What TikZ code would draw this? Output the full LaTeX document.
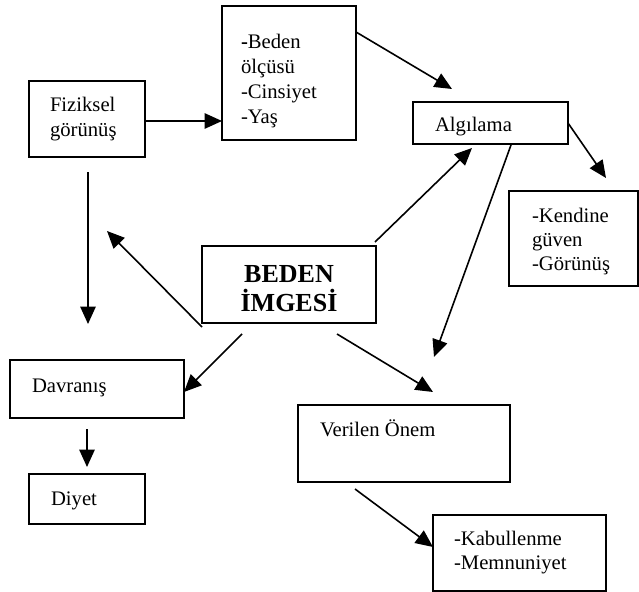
\documentclass[tikz,border=0pt]{standalone}
\usepackage{fontspec}
\setmainfont{Liberation Serif}
\usetikzlibrary{arrows.meta,calc}
\begin{document}
\begin{tikzpicture}[x=0.75pt,y=-0.75pt,
  box/.style={draw,line width=1.6pt,rectangle,inner sep=0pt,outer sep=0pt},
  txt/.style={anchor=base west,inner sep=0pt,outer sep=0pt,align=left,font=\fontsize{15.5}{18.75}\selectfont},
  conn/.style={line width=1.2pt,-{Triangle[length=13pt,width=11.5pt]}}]
\useasboundingbox (0,0) rectangle (639,592);
% boxes
\node[box,minimum width=87pt,minimum height=57pt] (fiz) at (87,119) {};
\node[box,minimum width=100.5pt,minimum height=100.5pt] (beden) at (289,73) {};
\node[box,minimum width=116.25pt,minimum height=31.5pt] (alg) at (490.5,123) {};
\node[box,minimum width=96.75pt,minimum height=71.25pt] (kend) at (573.5,238.5) {};
\node[box,minimum width=130.5pt,minimum height=57.75pt] (img) at (289,284.5) {};
\node[box,minimum width=130.5pt,minimum height=43.5pt] (dav) at (97,389) {};
\node[box,minimum width=87pt,minimum height=37.5pt] (diy) at (87,499) {};
\node[box,minimum width=159pt,minimum height=57.75pt] (ver) at (404,443.5) {};
\node[box,minimum width=129.75pt,minimum height=57pt] (kab) at (519.5,553) {};
% texts (anchor = baseline of last line)
\node[txt] (tfiz) at (50,137) {Fiziksel\\görünüş};
\node[txt] (tbeden) at (241,123) {\textbf{-}Beden\\ölçüsü\\-Cinsiyet\\-Yaş};
\node[txt] (talg) at (435,132) {Algılama};
\node[txt,font=\fontsize{15.5}{18}\selectfont] (tkend) at (532,270) {-Kendine\\güven\\-Görünüş};
\node[anchor=base,inner sep=0pt,align=center,font=\fontsize{19.5}{21.75}\selectfont\bfseries] (timg) at (289,311) {BEDEN\\İMGESİ};
\node[txt] (tdav) at (32,392) {Davranış};
\node[txt] (tdiy) at (51,505) {Diyet};
\node[txt] (tver) at (320,436) {Verilen Önem};
\node[txt,font=\fontsize{15.5}{18}\selectfont] (tkab) at (454,569) {-Kabullenme\\-Memnuniyet};
% connectors
\draw[conn] ($(fiz.east)+(0,2)$) -- ($(fiz.east -| beden.west)+(0,2)$);
\draw[conn] ($(beden.north east)+(0,26)$) -- ($(alg.north west)+(39,-13)$);
\draw[conn] (alg.east) -- ($(kend.north west)+(97,-13)$);
\draw[conn] ($(img.north east)+(-1,-4)$) -- ($(alg.south west)+(59,4)$);
\draw[conn] ($(alg.south west)+(98,1)$) -- ($(ver.north west)+(136,-48)$);
\draw[conn] ($(img.south west)+(0,4)$) -- ($(fiz.south west)+(78,74)$);
\draw[conn] ($(img.south west)+(40,11)$) -- ($(dav.east)+(0,3)$);
\draw[conn] ($(img.south west)+(135,11)$) -- ($(ver.north west)+(135,-13)$);
\draw[conn] ($(fiz.south)+(1,15)$) -- ($(dav.north)+(-9,-36)$);
\draw[conn] ($(dav.south)+(-10,11)$) -- ($(diy.north)+(0,-7)$);
\draw[conn] ($(ver.south west)+(57,7)$) -- ($(kab.west)+(0,-6)$);
\end{tikzpicture}
\end{document}
